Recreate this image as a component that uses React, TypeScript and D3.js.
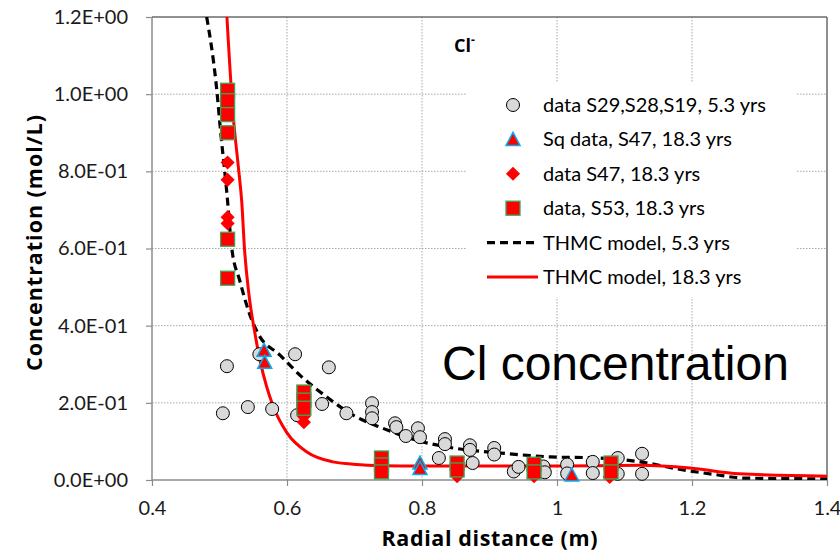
import React, { useEffect, useRef } from 'react';
import * as d3 from 'd3';

// axis ticks
const xTicks = [0.4, 0.6, 0.8, 1.0, 1.2, 1.4];
const yTicks = [0, 0.2, 0.4, 0.6, 0.8, 1.0, 1.2];

// data S29,S28,S19, 5.3 yrs  [radial distance, concentration]
const data5y: [number, number][] = [
  [0.505, 0.173], [0.511, 0.295], [0.542, 0.189], [0.559, 0.326], [0.578, 0.184],
  [0.612, 0.326], [0.615, 0.168], [0.652, 0.197], [0.662, 0.292], [0.688, 0.173],
  [0.726, 0.199], [0.726, 0.176], [0.726, 0.16], [0.76, 0.147], [0.762, 0.137],
  [0.776, 0.114], [0.794, 0.134], [0.797, 0.111], [0.825, 0.057], [0.834, 0.106],
  [0.834, 0.093], [0.871, 0.09], [0.871, 0.078], [0.875, 0.044], [0.907, 0.083],
  [0.907, 0.066], [0.936, 0.022], [0.943, 0.034], [0.98, 0.035], [0.982, 0.02],
  [1.015, 0.04], [1.015, 0.017], [1.053, 0.047], [1.053, 0.018], [1.09, 0.057],
  [1.09, 0.016], [1.126, 0.068], [1.126, 0.016],
];

// Sq data, S47, 18.3 yrs
const sqS47: [number, number][] = [
  [0.566, 0.336], [0.567, 0.305], [0.797, 0.044], [0.797, 0.03], [1.022, 0.013],
];

// data S47, 18.3 yrs
const dataS47: [number, number][] = [
  [0.512, 0.823], [0.512, 0.778], [0.512, 0.681], [0.512, 0.665],
  [0.625, 0.165], [0.625, 0.15], [0.852, 0.01], [0.966, 0.01], [1.078, 0.008],
];

// data, S53, 18.3 yrs
const dataS53: [number, number][] = [
  [0.512, 1.01], [0.512, 0.983], [0.512, 0.947], [0.512, 0.9], [0.512, 0.624],
  [0.512, 0.523], [0.625, 0.228], [0.625, 0.207], [0.625, 0.186], [0.74, 0.057],
  [0.74, 0.039], [0.74, 0.021], [0.852, 0.044], [0.852, 0.026], [0.966, 0.041],
  [0.966, 0.021], [1.08, 0.044], [1.08, 0.021],
];

// THMC model, 5.3 yrs
const model5y: [number, number][] = [
  [0.481, 1.2], [0.495, 1.027], [0.502, 0.897], [0.511, 0.742], [0.518, 0.603],
  [0.53, 0.517], [0.548, 0.414], [0.557, 0.38], [0.59, 0.323], [0.619, 0.272],
  [0.659, 0.215], [0.698, 0.168], [0.742, 0.134], [0.792, 0.103], [0.846, 0.083],
  [0.916, 0.07], [0.99, 0.06], [1.064, 0.057], [1.123, 0.047], [1.187, 0.026],
  [1.235, 0.014], [1.276, 0.005], [1.4, 0.003],
];

// THMC model, 18.3 yrs
const model18y: [number, number][] = [
  [0.511, 1.2], [0.52, 0.95], [0.528, 0.81], [0.533, 0.72], [0.537, 0.6],
  [0.543, 0.49], [0.553, 0.375], [0.56, 0.31], [0.57, 0.241], [0.58, 0.189],
  [0.6, 0.122], [0.63, 0.072], [0.668, 0.047], [0.698, 0.041], [0.742, 0.037],
  [0.8, 0.036], [1.0, 0.036], [1.123, 0.038], [1.197, 0.031], [1.27, 0.016],
  [1.4, 0.01],
];

const legendLabels = [
  'data S29,S28,S19, 5.3 yrs',
  'Sq data, S47, 18.3 yrs',
  'data S47, 18.3 yrs',
  'data, S53, 18.3 yrs',
  'THMC model, 5.3 yrs',
  'THMC model, 18.3 yrs',
];

const FONT = 'Lato, "Open Sans", sans-serif';
const TITLE_FONT = '"Open Sans", Lato, sans-serif';

function fmtExp(d: number) {
  const [m, e] = d.toExponential(1).split('e');
  return `${m}E${e[0]}${e.slice(1).padStart(2, '0')}`;
}

export default function App() {
  const ref = useRef<SVGSVGElement>(null);

  useEffect(() => {
    const svg = d3.select(ref.current);
    svg.selectAll('*').remove();

    const margin = { left: 152, right: 13, top: 17, bottom: 72 };
    const width = 840 - margin.left - margin.right;
    const height = 552 - margin.top - margin.bottom;

    const x = d3.scaleLinear().domain([0.4, 1.4]).range([0, width]);
    const y = d3.scaleLinear().domain([0, 1.2]).range([height, 0]);

    const g = svg.append('g').attr('transform', `translate(${margin.left},${margin.top})`);

    g.append('clipPath').attr('id', 'plot-clip')
      .append('rect').attr('width', width).attr('height', height);

    // grid
    const grid = g.append('g');
    grid.selectAll('line.gx').data(xTicks.slice(1, -1)).enter().append('line')
      .attr('x1', d => x(d)).attr('x2', d => x(d)).attr('y1', 0).attr('y2', height)
      .attr('stroke', '#a8a8a8').attr('stroke-dasharray', '1.5,1.5');
    grid.selectAll('line.gy').data(yTicks.slice(1, -1)).enter().append('line')
      .attr('x1', 0).attr('x2', width).attr('y1', d => y(d)).attr('y2', d => y(d))
      .attr('stroke', '#a8a8a8').attr('stroke-dasharray', '1.5,1.5');

    // legend background hides the grid
    const lg = svg.append('g');
    lg.append('rect').attr('x', 467).attr('y', 83).attr('width', 330).attr('height', 214)
      .attr('fill', '#fff');

    // axes
    const yAxis = g.append('g').call(
      d3.axisLeft(y).tickValues(yTicks).tickSize(6).tickPadding(18).tickFormat(d => fmtExp(+d))
    );
    const xAxis = g.append('g').attr('transform', `translate(0,${height})`).call(
      d3.axisBottom(x).tickValues(xTicks).tickSize(6).tickPadding(15)
        .tickFormat(d => String(+(+d).toFixed(1)))
    );
    [yAxis, xAxis].forEach(a => {
      a.select('.domain').remove();
      a.selectAll('line').attr('stroke', '#8c8c8c').attr('stroke-width', 1.2);
      a.selectAll('text').style('font-family', FONT).style('font-size', '20px').attr('fill', '#1a1a1a');
    });

    // frame
    g.append('line').attr('x1', 0).attr('x2', 0).attr('y1', 0).attr('y2', height)
      .attr('stroke', '#8c8c8c').attr('stroke-width', 1.5);
    g.append('line').attr('x1', 0).attr('x2', width).attr('y1', height).attr('y2', height)
      .attr('stroke', '#8c8c8c').attr('stroke-width', 1.5);
    g.append('line').attr('x1', 0).attr('x2', width).attr('y1', 0).attr('y2', 0)
      .attr('stroke', '#6b6b6b').attr('stroke-width', 1.5);
    g.append('line').attr('x1', width).attr('x2', width).attr('y1', 0).attr('y2', height)
      .attr('stroke', '#6b6b6b').attr('stroke-width', 1.5);

    // model lines
    const line = d3.line<[number, number]>()
      .x(d => x(d[0])).y(d => y(d[1])).curve(d3.curveMonotoneX);
    const lines = g.append('g').attr('clip-path', 'url(#plot-clip)');
    lines.append('path').datum(model5y).attr('d', line).attr('fill', 'none')
      .attr('stroke', '#000').attr('stroke-width', 3.2).attr('stroke-dasharray', '8,5');
    lines.append('path').datum(model18y).attr('d', line).attr('fill', 'none')
      .attr('stroke', '#ff0000').attr('stroke-width', 3);

    // markers
    const triPath = 'M0,-7 L7,6 L-7,6 Z';
    const pts = g.append('g');
    pts.selectAll('circle').data(data5y).enter().append('circle')
      .attr('cx', d => x(d[0])).attr('cy', d => y(d[1])).attr('r', 6.5)
      .attr('fill', '#d9d9d9').attr('stroke', '#000').attr('stroke-width', 1);
    pts.selectAll('path.tri').data(sqS47).enter().append('path').attr('class', 'tri')
      .attr('d', triPath).attr('transform', d => `translate(${x(d[0])},${y(d[1])})`)
      .attr('fill', '#ff0000').attr('stroke', '#00b0f0').attr('stroke-width', 1.5);
    pts.selectAll('rect.dia').data(dataS47).enter().append('rect').attr('class', 'dia')
      .attr('x', -5).attr('y', -5).attr('width', 10).attr('height', 10)
      .attr('transform', d => `translate(${x(d[0])},${y(d[1])}) rotate(45)`)
      .attr('fill', '#ff0000');
    pts.selectAll('rect.sq').data(dataS53).enter().append('rect').attr('class', 'sq')
      .attr('x', d => x(d[0]) - 7).attr('y', d => y(d[1]) - 7).attr('width', 14).attr('height', 14)
      .attr('fill', '#ff0000').attr('stroke', '#3aa757').attr('stroke-width', 1.3);

    // legend
    const rowY = (i: number) => 105 + i * 34.4;
    const symX = 513;
    lg.append('circle').attr('cx', symX).attr('cy', rowY(0)).attr('r', 6.5)
      .attr('fill', '#d9d9d9').attr('stroke', '#000');
    lg.append('path').attr('d', triPath).attr('transform', `translate(${symX},${rowY(1)})`)
      .attr('fill', '#ff0000').attr('stroke', '#00b0f0').attr('stroke-width', 1.5);
    lg.append('rect').attr('x', -5).attr('y', -5).attr('width', 10).attr('height', 10)
      .attr('transform', `translate(${symX},${rowY(2)}) rotate(45)`).attr('fill', '#ff0000');
    lg.append('rect').attr('x', symX - 7).attr('y', rowY(3) - 7).attr('width', 14).attr('height', 14)
      .attr('fill', '#ff0000').attr('stroke', '#3aa757').attr('stroke-width', 1.3);
    lg.append('line').attr('x1', 487).attr('x2', 538).attr('y1', rowY(4)).attr('y2', rowY(4))
      .attr('stroke', '#000').attr('stroke-width', 3.2).attr('stroke-dasharray', '8,5');
    lg.append('line').attr('x1', 487).attr('x2', 538).attr('y1', rowY(5)).attr('y2', rowY(5))
      .attr('stroke', '#ff0000').attr('stroke-width', 3);
    lg.selectAll('text').data(legendLabels).enter().append('text')
      .attr('x', 543).attr('y', (d, i) => rowY(i)).attr('dy', '0.35em')
      .style('font-family', FONT).style('font-size', '20px').attr('fill', '#000')
      .text(d => d);

    // annotations
    const cl = svg.append('text').attr('x', 454).attr('y', 52)
      .style('font-family', TITLE_FONT).style('font-size', '18px').style('font-weight', 'bold');
    cl.append('tspan').text('Cl');
    cl.append('tspan').attr('dy', -8).style('font-size', '12px').text('-');

    svg.append('text').attr('x', 442).attr('y', 380)
      .style('font-family', '"Liberation Sans", Arial, sans-serif').style('font-size', '48px')
      .attr('fill', '#000').text('Cl concentration');

    // axis titles
    svg.append('text').attr('x', margin.left + width / 2).attr('y', 546)
      .attr('text-anchor', 'middle').style('font-family', TITLE_FONT).style('font-size', '21.5px')
      .style('font-weight', 'bold').attr('textLength', 216).attr('lengthAdjust', 'spacing')
      .text('Radial distance (m)');
    svg.append('text').attr('transform', 'translate(42,243) rotate(-90)')
      .attr('text-anchor', 'middle').style('font-family', TITLE_FONT).style('font-size', '21.5px')
      .style('font-weight', 'bold').attr('textLength', 256).attr('lengthAdjust', 'spacing')
      .text('Concentration (mol/L)');
  }, []);

  return (
    <svg
      ref={ref}
      width={840}
      height={552}
      style={{ position: 'absolute', left: 0, top: 0, background: '#fff' }}
    />
  );
}
